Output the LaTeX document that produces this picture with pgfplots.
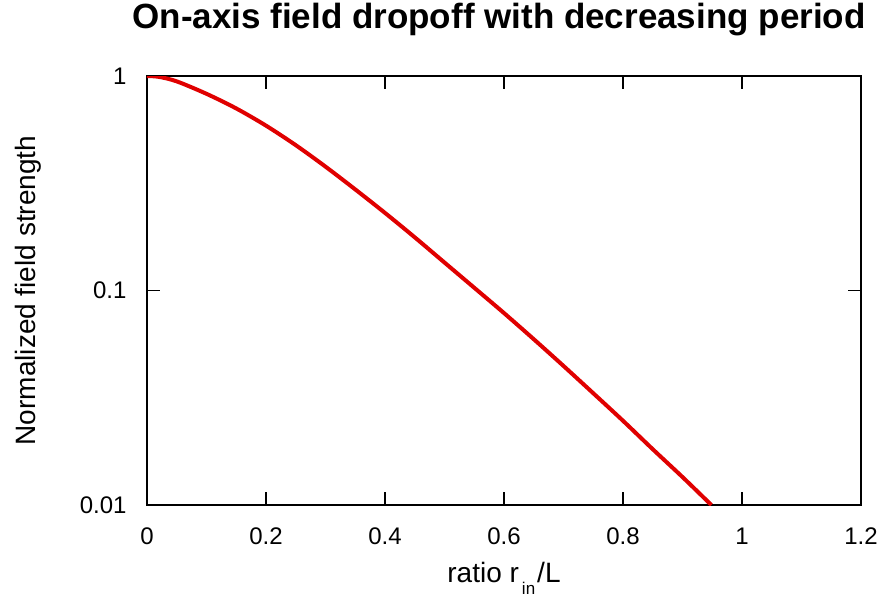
\documentclass[border=0pt]{standalone}
\usepackage{pgfplots}
\pgfplotsset{compat=1.18}
\usepackage{fontspec}
\setmainfont{Liberation Sans}
\begin{document}
\begin{tikzpicture}
\begin{axis}[
  scale only axis,
  width=714pt, height=429pt,
  ymode=log,
  xmin=0, xmax=1.2, ymin=0.01, ymax=1,
  xtick={0,0.2,0.4,0.6,0.8,1,1.2},
  xticklabels={0,0.2,0.4,0.6,0.8,1,1.2},
  ytick={0.01,0.1,1},
  yticklabels={0.01,0.1,1},
  minor tick num=0,
  yminorticks=false,
  tick align=inside,
  major tick length=13pt,
  tick style={black, line width=1.2pt},
  axis line style={line width=1.4pt},
  xtick pos=both, ytick pos=both,
  ticklabel style={font=\fontsize{24}{26}\selectfont},
  xticklabel style={yshift=-19pt},
  yticklabel style={xshift=-17pt},
  xlabel={ratio r\hspace{3pt}\raisebox{-12pt}{\fontsize{17}{17}\selectfont in}\hspace{2pt}/L},
  ylabel={Normalized field strength},
  label style={font=\fontsize{28}{30}\selectfont},
  xlabel style={at={(axis description cs:0.5,-0.1795)}, anchor=base},
  ylabel style={at={(axis description cs:-0.1555,0.5)}, anchor=base, rotate=0},
  title={On-axis field dropoff with decreasing period},
  title style={font=\fontsize{35}{37}\selectfont\bfseries, at={(axis description cs:0.5,1)}, anchor=base, yshift=42pt, xshift=-5pt},
  clip=true,
]
\addplot[red!88!black, line width=4pt, smooth] coordinates {
(0,1) (0.02,0.991) (0.05,0.944) (0.1,0.826) (0.15,0.706) (0.2,0.587)
(0.25,0.476) (0.3,0.378) (0.35,0.296) (0.4,0.230) (0.45,0.177)
(0.5,0.135) (0.55,0.103) (0.6,0.0785) (0.65,0.0593) (0.7,0.0445)
(0.75,0.0332) (0.8,0.0247) (0.85,0.0182) (0.9,0.0135) (0.9485,0.0100)
};
\end{axis}
\pgfresetboundingbox
\path ([shift={(-147pt,-92pt)}]current axis.south west) rectangle ([shift={(22pt,76pt)}]current axis.north east);
\end{tikzpicture}
\end{document}
